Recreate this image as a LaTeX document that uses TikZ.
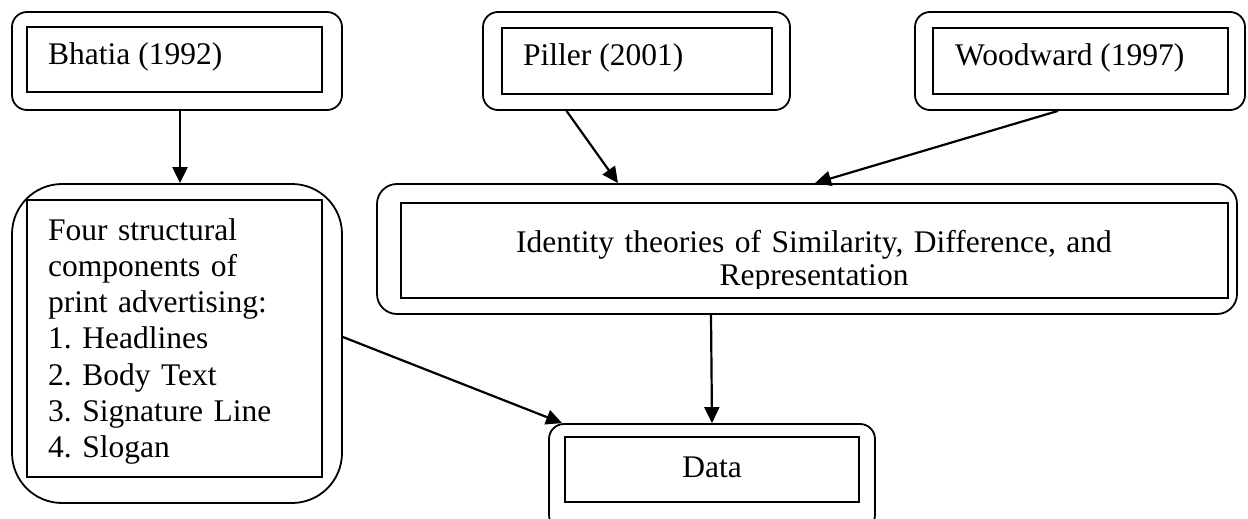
\documentclass[tikz,border=0pt]{standalone}
\usepackage{fontspec}
\setmainfont{Liberation Serif}
\usetikzlibrary{arrows.meta}
\frenchspacing
\begin{document}
\begin{tikzpicture}[x=1pt,y=-1pt,
  outerbox/.style={draw, line width=1.8pt, rounded corners=15pt, inner sep=0pt},
  innerbox/.style={draw, line width=1.8pt, inner sep=0pt},
  lbl/.style={inner sep=0pt, font=\fontsize{31.5}{36.3}\selectfont},
  conn/.style={line width=2.2pt, -{Triangle[length=16pt,width=15pt]}}]
\useasboundingbox (0,0) rectangle (1248,519);
% Bhatia
\node[outerbox, minimum width=330pt, minimum height=98pt] (bhO) at (177,61) {};
\node[innerbox, minimum width=295pt, minimum height=65pt] (bhI) at (174.5,59.5) {};
\node[lbl, anchor=base west] (bhT) at (48,65) {Bhatia (1992)};
% Piller
\node[outerbox, minimum width=307pt, minimum height=98pt] (pO) at (636.5,61) {};
\node[innerbox, minimum width=270pt, minimum height=66pt] (pI) at (637,61) {};
\node[lbl, anchor=base west] (pT) at (523,66) {Piller (2001)};
% Woodward
\node[outerbox, minimum width=330pt, minimum height=98pt] (wO) at (1080,61) {};
\node[innerbox, minimum width=295pt, minimum height=66pt] (wI) at (1080.5,61) {};
\node[lbl, anchor=base west] (wT) at (955,66) {Woodward (1997)};
% Four structural components
\node[outerbox, rounded corners=50pt, minimum width=330pt, minimum height=319pt] (fO) at (177,343.5) {};
\node[innerbox, minimum width=295pt, minimum height=277pt] (fI) at (174.5,338.5) {};
\node[lbl, anchor=base west, text width=272pt, align=left] (fT) at (48,240)
  {Four structural\\components of\\print advertising:\\1. Headlines\\2. Body Text\\3. Signature Line\\4. Slogan};
% Identity
\node[outerbox, rounded corners=20pt, minimum width=860pt, minimum height=130pt] (idO) at (807,249) {};
\node[innerbox, minimum width=827pt, minimum height=95pt] (idI) at (814.5,250.5) {};
\begin{scope}
\clip (idI.north west) rectangle ([yshift=10pt]idI.south east);
\node[lbl, font=\fontsize{31.5}{33.3}\selectfont, anchor=base, text width=800pt, align=center] (idT) at (814,252)
  {Identity theories of Similarity, Difference, and\\Representation};
\end{scope}
% Data
\node[outerbox, minimum width=326pt, minimum height=106pt] (dO) at (712,477) {};
\node[innerbox, minimum width=294pt, minimum height=65pt] (dI) at (712,469.5) {};
\node[lbl, anchor=base] (dT) at (712,477) {Data};
% connectors
\draw[conn] ([xshift=3pt]bhO.south) -- ([xshift=3pt]fO.north);
\draw[conn] ([xshift=-70pt]pO.south) -- ([xshift=-189pt]idO.north);
\draw[conn] ([xshift=-22pt]wO.south) -- ([xshift=8pt]idO.north);
\draw[conn] ([xshift=-96pt]idO.south) -- (dO.north);
\draw[conn] ([yshift=6.5pt]fO.east) -- ([xshift=14pt]dO.north west);
\end{tikzpicture}
\end{document}
